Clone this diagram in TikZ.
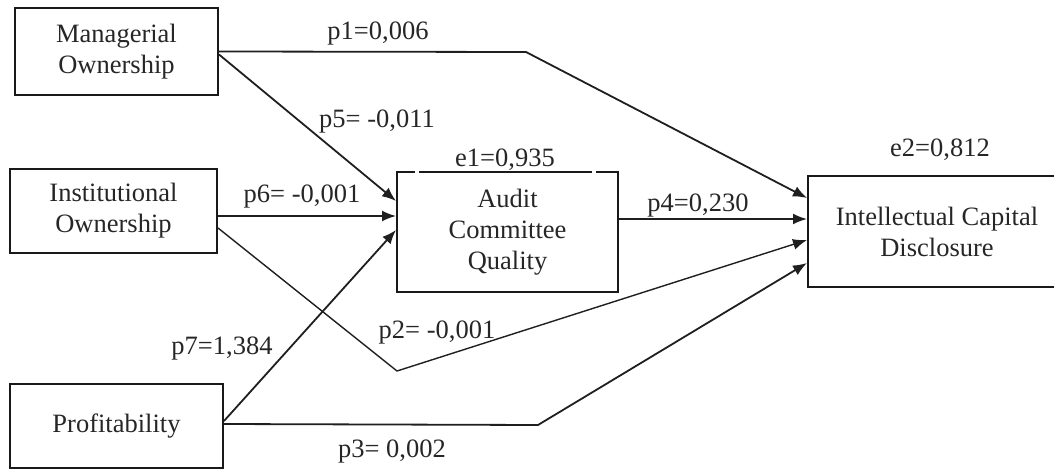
\documentclass[tikz,border=0pt]{standalone}
\usepackage{fontspec}
\setmainfont{Liberation Serif}
\usetikzlibrary{arrows.meta}
\begin{document}
\begin{tikzpicture}[x=1pt,y=-1pt,
  box/.style={draw=black!90, line width=2pt, inner sep=0pt, align=center, text=black!85,
    font=\fontsize{26.5}{31}\selectfont},
  lbl/.style={inner sep=0pt, text=black!85, font=\fontsize{26.5}{31}\selectfont},
  conn/.style={line width=1.8pt, draw=black!88, -{Latex[length=14pt,width=11pt]}},
]
\useasboundingbox (0,0) rectangle (1054,470);
% boxes
\node[box, minimum width=203pt, minimum height=87pt] (mo) at (116.5,51.5) {Managerial\\Ownership};
\node[box, minimum width=207pt, minimum height=84pt] (io) at (113.5,211) {Institutional\\Ownership};
\node[box, minimum width=213pt, minimum height=84pt] (pr) at (116.5,426) {Profitability};
\node[box, minimum width=221pt, minimum height=120pt] (ac) at (507.5,232) {Audit\\Committee\\Quality};
\node[box, minimum width=258pt, minimum height=111pt] (icd) at (937,231.5) {Intellectual Capital\\Disclosure};
% small gaps in top edge of audit box
\fill[white] (415,168) rectangle (419,176);
\fill[white] (592,168) rectangle (596,176);
% bend points
\coordinate (b1) at (526,52);
\coordinate (b2) at (397,371);
\coordinate (b3) at (538,425);
% connectors
\draw[conn] (mo.east) -- (b1) -- ([yshift=33.5pt]icd.west);
\draw[conn] ([yshift=-3pt]mo.east) -- ([yshift=31pt]ac.west);
\draw[conn] ([yshift=-5pt]io.east) -- ([yshift=16pt]ac.west);
\draw[conn, line width=1.4pt] ([yshift=-17pt]io.east) -- (b2) -- ([yshift=-8.5pt]icd.west);
\draw[conn] ([yshift=5pt]pr.east) -- ([yshift=2pt]ac.west);
\draw[conn] ([yshift=2pt]pr.east) -- (b3) -- ([yshift=-31.5pt]icd.west);
\draw[conn] ([yshift=13pt]ac.east) -- ([yshift=12.5pt]icd.west);
% labels
\node[lbl] (l1) at (378,34) {p1=0,006};
\node[lbl] (l5) at (377,122) {p5= -0,011};
\node[lbl] (l6) at (302,197) {p6= -0,001};
\node[lbl] (l7) at (222,349) {p7=1,384};
\node[lbl] (l2) at (437,333) {p2= -0,001};
\node[lbl] (l3) at (392,452) {p3= 0,002};
\node[lbl] (l4) at (698,206) {p4=0,230};
\node[lbl] (le1) at (505,160) {e1=0,935};
\node[lbl] (le2) at (940,150) {e2=0,812};
\end{tikzpicture}
\end{document}
